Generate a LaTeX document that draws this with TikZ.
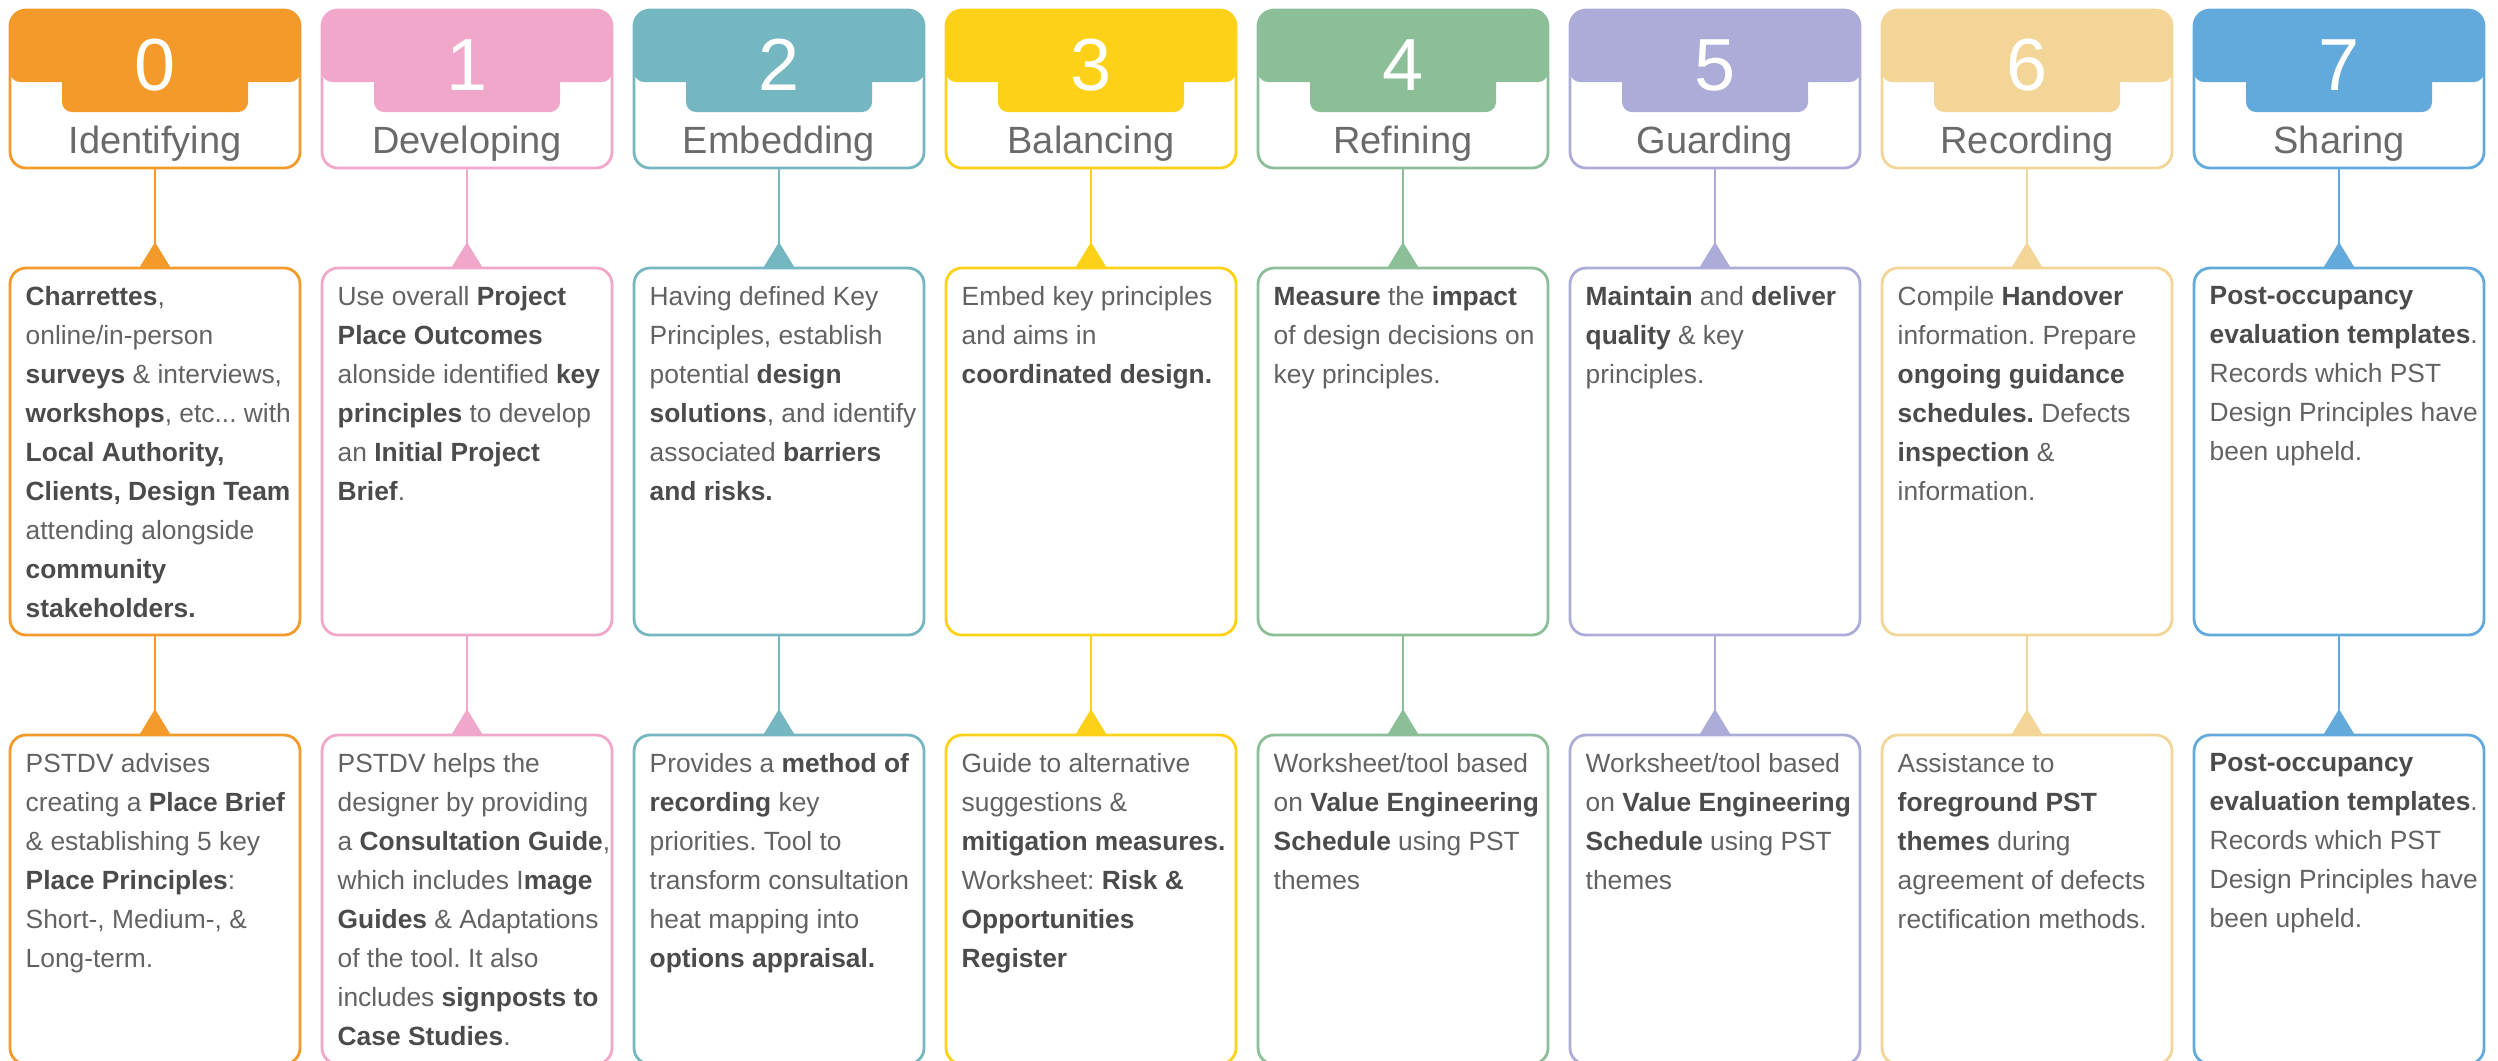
\documentclass[tikz,border=0pt]{standalone}
\usepackage{fontspec}
\setmainfont{Liberation Sans}
\usepackage{tikz}
\usetikzlibrary{arrows.meta, positioning}
\frenchspacing

\definecolor{c0}{HTML}{F39A2B}
\definecolor{c1}{HTML}{F0A7C9}
\definecolor{c2}{HTML}{74B7C0}
\definecolor{c3}{HTML}{FDD117}
\definecolor{c4}{HTML}{8CBE97}
\definecolor{c5}{HTML}{ADACD9}
\definecolor{c6}{HTML}{F3D597}
\definecolor{c7}{HTML}{62A9DC}
\definecolor{bodygray}{HTML}{626262}
\definecolor{ttlgray}{HTML}{6A6A6A}
\definecolor{kwgray}{HTML}{4B4B4B}
\newcommand{\kw}[1]{\textbf{\color{kwgray}#1}}

\begin{document}
\begin{tikzpicture}[x=0.1mm,y=-0.1mm,
  headbox/.style={rectangle, rounded corners=1.6mm, draw=#1, fill=white,
    line width=0.28mm, minimum width=29mm, minimum height=15.8mm, outer sep=0pt,
    path picture={
      \fill[#1, rounded corners=1mm] ([yshift=1mm]path picture bounding box.north west)
        rectangle ([yshift=-7.2mm]path picture bounding box.north east);
      \fill[#1, rounded corners=1mm] ([xshift=-9.3mm,yshift=-4mm]path picture bounding box.north)
        rectangle ([xshift=9.3mm,yshift=-10.2mm]path picture bounding box.north);
    }},
  midbox/.style={rectangle, rounded corners=1.6mm, draw=#1, line width=0.28mm,
    minimum width=29mm, minimum height=36.7mm, outer sep=0pt},
  lowbox/.style={rectangle, rounded corners=1.6mm, draw=#1, line width=0.28mm,
    minimum width=29mm, minimum height=32.9mm, outer sep=0pt},
  num/.style={anchor=base, text=white, font=\fontsize{21}{21}\selectfont},
  ttl/.style={anchor=base, text=ttlgray, font=\fontsize{10.8}{12}\selectfont},
  txt/.style={anchor=north west, align=left, inner sep=0pt, text=bodygray,
    font=\fontsize{7.5}{11.1}\selectfont},
  link/.style={line width=0.25mm, -{Triangle[length=2.6mm,width=3.1mm,reversed]}}]
  \useasboundingbox (0,0) rectangle (2498,1060);

  % headers
  \node[headbox=c0] (H0) at (155,89) {};
  \node[headbox=c1] (H1) at (467,89) {};
  \node[headbox=c2] (H2) at (779,89) {};
  \node[headbox=c3] (H3) at (1091,89) {};
  \node[headbox=c4] (H4) at (1403,89) {};
  \node[headbox=c5] (H5) at (1715,89) {};
  \node[headbox=c6] (H6) at (2027,89) {};
  \node[headbox=c7] (H7) at (2339,89) {};

  \node[num] (N0) at (155,90) {0};
  \node[num] (N1) at (467,90) {1};
  \node[num] (N2) at (779,90) {2};
  \node[num] (N3) at (1091,90) {3};
  \node[num] (N4) at (1403,90) {4};
  \node[num] (N5) at (1715,90) {5};
  \node[num] (N6) at (2027,90) {6};
  \node[num] (N7) at (2339,90) {7};

  \node[ttl] (T0) at (155,153) {Identifying};
  \node[ttl] (T1) at (467,153) {Developing};
  \node[ttl] (T2) at (779,153) {Embedding};
  \node[ttl] (T3) at (1091,153) {Balancing};
  \node[ttl] (T4) at (1403,153) {Refining};
  \node[ttl] (T5) at (1715,153) {Guarding};
  \node[ttl] (T6) at (2027,153) {Recording};
  \node[ttl] (T7) at (2339,153) {Sharing};

  % middle row
  \node[midbox=c0] (M0) at (155,451.5) {};
  \node[midbox=c1] (M1) at (467,451.5) {};
  \node[midbox=c2] (M2) at (779,451.5) {};
  \node[midbox=c3] (M3) at (1091,451.5) {};
  \node[midbox=c4] (M4) at (1403,451.5) {};
  \node[midbox=c5] (M5) at (1715,451.5) {};
  \node[midbox=c6] (M6) at (2027,451.5) {};
  \node[midbox=c7] (M7) at (2339,451.5) {};

  \node[txt] (M0t) at ([xshift=1.5mm,yshift=-1.8mm]M0.north west)
    {\kw{Charrettes},\\online/in-person\\\kw{surveys} \& interviews,\\\kw{workshops}, etc... with\\\kw{Local Authority,}\\\kw{Clients, Design Team}\\attending alongside\\\kw{community}\\\kw{stakeholders.}};
  \node[txt] (M1t) at ([xshift=1.5mm,yshift=-1.8mm]M1.north west)
    {Use overall \kw{Project}\\\kw{Place Outcomes}\\alonside identified \kw{key}\\\kw{principles} to develop\\an \kw{Initial Project}\\\kw{Brief}.};
  \node[txt] (M2t) at ([xshift=1.5mm,yshift=-1.8mm]M2.north west)
    {Having defined Key\\Principles, establish\\potential \kw{design}\\\kw{solutions}, and identify\\associated \kw{barriers}\\\kw{and risks.}};
  \node[txt] (M3t) at ([xshift=1.5mm,yshift=-1.8mm]M3.north west)
    {Embed key principles\\and aims in\\\kw{coordinated design.}};
  \node[txt] (M4t) at ([xshift=1.5mm,yshift=-1.8mm]M4.north west)
    {\kw{Measure} the \kw{impact}\\of design decisions on\\key principles.};
  \node[txt] (M5t) at ([xshift=1.5mm,yshift=-1.8mm]M5.north west)
    {\kw{Maintain} and \kw{deliver}\\\kw{quality} \& key\\principles.};
  \node[txt] (M6t) at ([xshift=1.5mm,yshift=-1.8mm]M6.north west)
    {Compile \kw{Handover}\\information. Prepare\\\kw{ongoing guidance}\\\kw{schedules.} Defects\\\kw{inspection} \&\\information.};
  \node[txt] (M7t) at ([xshift=1.5mm,yshift=-1.8mm]M7.north west)
    {\kw{Post-occupancy}\\\kw{evaluation templates}.\\Records which PST\\Design Principles have\\been upheld.};

  % bottom row
  \node[lowbox=c0] (B0) at (155,899.5) {};
  \node[lowbox=c1] (B1) at (467,899.5) {};
  \node[lowbox=c2] (B2) at (779,899.5) {};
  \node[lowbox=c3] (B3) at (1091,899.5) {};
  \node[lowbox=c4] (B4) at (1403,899.5) {};
  \node[lowbox=c5] (B5) at (1715,899.5) {};
  \node[lowbox=c6] (B6) at (2027,899.5) {};
  \node[lowbox=c7] (B7) at (2339,899.5) {};

  \node[txt] (B0t) at ([xshift=1.5mm,yshift=-1.8mm]B0.north west)
    {PSTDV advises\\creating a \kw{Place Brief}\\\& establishing 5 key\\\kw{Place Principles}:\\Short-, Medium-, \&\\Long-term.};
  \node[txt] (B1t) at ([xshift=1.5mm,yshift=-1.8mm]B1.north west)
    {PSTDV helps the\\designer by providing\\a \kw{Consultation Guide},\\which includes I\kw{mage}\\\kw{Guides} \& Adaptations\\of the tool. It also\\includes \kw{signposts to}\\\kw{Case Studies}.};
  \node[txt] (B2t) at ([xshift=1.5mm,yshift=-1.8mm]B2.north west)
    {Provides a \kw{method of}\\\kw{recording} key\\priorities. Tool to\\transform consultation\\heat mapping into\\\kw{options appraisal.}};
  \node[txt] (B3t) at ([xshift=1.5mm,yshift=-1.8mm]B3.north west)
    {Guide to alternative\\suggestions \&\\\kw{mitigation measures.}\\Worksheet: \kw{Risk \&}\\\kw{Opportunities}\\\kw{Register}};
  \node[txt] (B4t) at ([xshift=1.5mm,yshift=-1.8mm]B4.north west)
    {Worksheet/tool based\\on \kw{Value Engineering}\\\kw{Schedule} using PST\\themes};
  \node[txt] (B5t) at ([xshift=1.5mm,yshift=-1.8mm]B5.north west)
    {Worksheet/tool based\\on \kw{Value Engineering}\\\kw{Schedule} using PST\\themes};
  \node[txt] (B6t) at ([xshift=1.5mm,yshift=-1.8mm]B6.north west)
    {Assistance to\\\kw{foreground PST}\\\kw{themes} during\\agreement of defects\\rectification methods.};
  \node[txt] (B7t) at ([xshift=1.5mm,yshift=-1.8mm]B7.north west)
    {\kw{Post-occupancy}\\\kw{evaluation templates}.\\Records which PST\\Design Principles have\\been upheld.};

  \path[link]
    (H0) edge[c0] (M0)  (M0) edge[c0] (B0)
    (H1) edge[c1] (M1)  (M1) edge[c1] (B1)
    (H2) edge[c2] (M2)  (M2) edge[c2] (B2)
    (H3) edge[c3] (M3)  (M3) edge[c3] (B3)
    (H4) edge[c4] (M4)  (M4) edge[c4] (B4)
    (H5) edge[c5] (M5)  (M5) edge[c5] (B5)
    (H6) edge[c6] (M6)  (M6) edge[c6] (B6)
    (H7) edge[c7] (M7)  (M7) edge[c7] (B7);
\end{tikzpicture}
\end{document}
